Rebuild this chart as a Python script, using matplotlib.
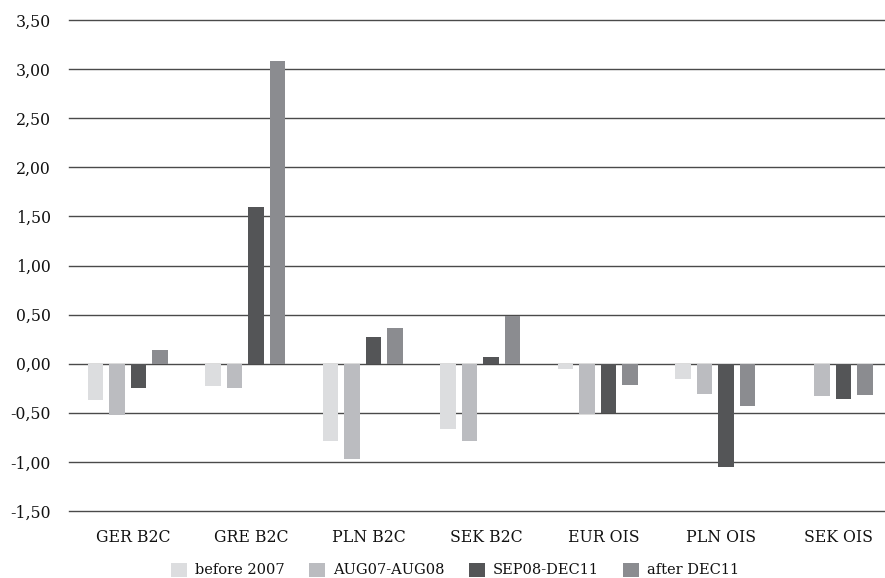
import matplotlib
matplotlib.use("Agg")
import matplotlib.pyplot as plt
import matplotlib.transforms as mtransforms
import numpy as np

categories = ["GER B2C", "GRE B2C", "PLN B2C", "SEK B2C", "EUR OIS", "PLN OIS", "SEK OIS"]
series_names = ["before 2007", "AUG07-AUG08", "SEP08-DEC11", "after DEC11"]
before_2007 = [-0.37, -0.23, -0.79, -0.67, -0.05, -0.16, 0.00]
aug07_aug08 = [-0.52, -0.25, -0.97, -0.79, -0.51, -0.31, -0.33]
sep08_dec11 = [-0.25, 1.60, 0.27, 0.07, -0.50, -1.05, -0.36]
after_dec11 = [0.14, 3.08, 0.36, 0.49, -0.22, -0.43, -0.32]
ytick_values = [-1.5, -1.0, -0.5, 0.0, 0.5, 1.0, 1.5, 2.0, 2.5, 3.0, 3.5]
ytick_labels = ["-1,50", "-1,00", "-0,50", "0,00", "0,50", "1,00", "1,50",
                "2,00", "2,50", "3,00", "3,50"]

colors = ["#dcdddf", "#bbbcc0", "#545557", "#8b8c90"]
series = [before_2007, aug07_aug08, sep08_dec11, after_dec11]

plt.rcParams["font.family"] = ["DejaVu Serif"]
plt.rcParams["font.size"] = 11

W, H = 885, 578
fig = plt.figure(figsize=(W / 100, H / 100), dpi=100)
left = 69 / W
right = 891.5 / W
bottom = 1 - 511 / H
top = 1 - 20 / H
ax = fig.add_axes([left, bottom, right - left, top - bottom])

x = np.arange(len(categories))
bw = 0.136
step = 0.183
offsets = (np.arange(4) - 1.5) * step
handles = []
for i, (vals, c, name) in enumerate(zip(series, colors, series_names)):
    h = ax.bar(x + offsets[i], vals, width=bw, color=c, label=name, zorder=3)
    handles.append(h)

ax.set_xlim(-0.5, len(categories) - 0.5)
ax.set_ylim(-1.5, 3.5)
ax.set_yticks(ytick_values)
ax.set_yticklabels(ytick_labels)
ax.set_xticks(x)
ax.set_xticklabels(categories)
for s in ax.spines.values():
    s.set_visible(False)
ax.tick_params(axis="both", length=0, labelsize=11.3, colors="#111111")
ax.tick_params(axis="y", pad=13)
ax.tick_params(axis="x", pad=13)
offset = mtransforms.ScaledTranslation(6 / 100, 0, fig.dpi_scale_trans)
for lab in ax.get_xticklabels():
    lab.set_transform(lab.get_transform() + offset)

ax.yaxis.grid(True, color="#4a4a4a", linewidth=1.0, zorder=1)
ax.set_axisbelow(True)
for gl in ax.get_ygridlines():
    gl.set_clip_on(False)

leg = fig.legend(handles=handles, labels=series_names, loc="center",
                 bbox_to_anchor=(455 / W, 1 - 570 / H), ncol=4, frameon=False,
                 fontsize=10.5, handlelength=1.1, handleheight=1.1,
                 handletextpad=0.55, columnspacing=1.65, borderaxespad=0,
                 labelcolor="#111111")

fig.savefig("out.png", dpi=100)
